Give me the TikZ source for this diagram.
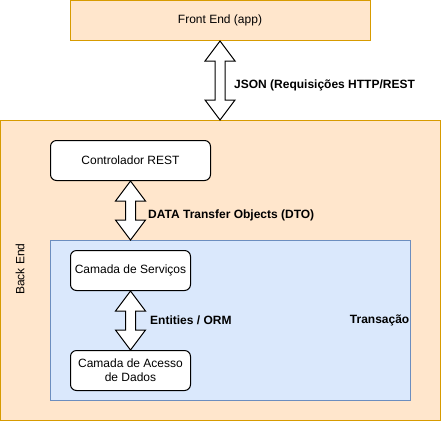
\documentclass[tikz,border=0pt]{standalone}
\usepackage{fontspec}
\setmainfont{Liberation Sans}
\usepackage{tikz}
\usetikzlibrary{calc}

\definecolor{feFill}{HTML}{FFE6CC}
\definecolor{feLine}{HTML}{D79B00}
\definecolor{txFill}{HTML}{DAE8FC}
\definecolor{txLine}{HTML}{6C8EBF}

\tikzset{
    layer/.style = {draw = feLine, fill = feFill, line width = 1pt, inner sep = 0},
    trans/.style = {draw = txLine, fill = txFill, line width = 1pt, inner sep = 0},
    comp/.style  = {draw, fill = white, rounded corners = 6pt, line width = 1pt,
                    minimum width = 120pt, minimum height = 40pt, align = center,
                    inner sep = 2pt},
    flexarr/.style = {draw, fill = white, line width = 1pt, line join = miter},
    lbl/.style = {font = \fontsize{12}{14}\selectfont\bfseries, inner sep = 0}
}

% double "flex" arrow from a top point to a bottom point
\newcommand{\flexarrow}[2]{%
    \draw[flexarr] let \p1 = (#1), \p2 = (#2) in
        (\x1, \y1) -- ({\x1+15pt}, {\y1-20pt}) -- ({\x1+5pt}, {\y1-20pt})
        -- ({\x1+5pt}, {\y2+20pt}) -- ({\x1+15pt}, {\y2+20pt}) -- (\x1, \y2)
        -- ({\x1-15pt}, {\y2+20pt}) -- ({\x1-5pt}, {\y2+20pt})
        -- ({\x1-5pt}, {\y1-20pt}) -- ({\x1-15pt}, {\y1-20pt}) -- cycle;}

\begin{document}
\begin{tikzpicture}[x = 1pt, y = -1pt, font = \fontsize{12}{14}\selectfont]
    \useasboundingbox (0, 0) rectangle (441, 421);

    \node[layer, minimum width = 300pt, minimum height = 40pt] (fe) at (220, 20.5)
        {Front End (app)};
    \node[layer, minimum width = 440pt, minimum height = 300pt] (be) at (220.5, 270.5) {};
    \node[rotate = 90] (belbl) at (20, 269) {Back End};

    \node[trans, minimum width = 360pt, minimum height = 160pt] (tx) at (230.5, 320.5) {};
    \node[lbl, anchor = east] (txlbl) at (409.5, 320) {Transação};

    \node[comp, minimum width = 160pt] (ctrl) at (130.5, 160.5) {Controlador REST};
    \node[comp] (serv) at (130.5, 270.5) {Camada de Serviços};
    \node[comp] (dados) at (130.5, 370.5) {Camada de Acesso\\de Dados};

    \flexarrow{fe.south}{be.north}
    \flexarrow{ctrl.south}{ctrl.south |- tx.north}
    \flexarrow{serv.south}{dados.north}

    \node[lbl, anchor = west] (json) at (234, 85) {JSON (Requisições HTTP/REST};
    \node[lbl, anchor = west] (dto) at (148, 215) {DATA Transfer Objects (DTO)};
    \node[lbl, anchor = west] (orm) at (150, 320) {Entities / ORM};
\end{tikzpicture}
\end{document}
